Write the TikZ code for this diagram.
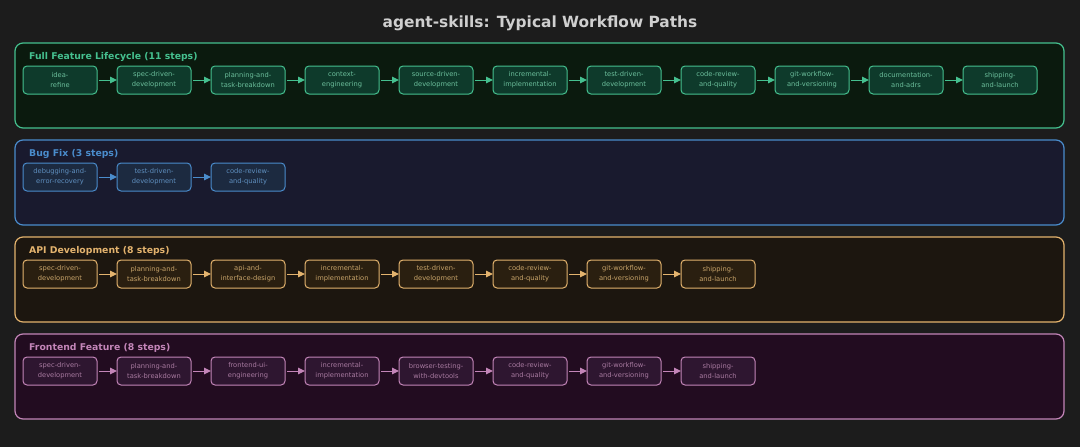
\documentclass[tikz,border=0pt]{standalone}
\usepackage{fontspec}
\setmainfont{DejaVu Sans}
\usetikzlibrary{arrows.meta}

\definecolor{bgcol}{HTML}{1C1C1C}
\definecolor{titlecol}{HTML}{CFCFCF}
\definecolor{greenedge}{HTML}{45C08F}
\definecolor{greenfill}{HTML}{0B1A0E}
\definecolor{greenbox}{HTML}{0E3A2B}
\definecolor{greentext}{HTML}{6CBF9C}
\definecolor{blueedge}{HTML}{4A8CCC}
\definecolor{bluefill}{HTML}{191A2E}
\definecolor{bluebox}{HTML}{1C2A40}
\definecolor{bluetext}{HTML}{5F8FBF}
\definecolor{orangeedge}{HTML}{E3B36E}
\definecolor{orangefill}{HTML}{1C160F}
\definecolor{orangebox}{HTML}{2A1F10}
\definecolor{orangetext}{HTML}{C8A46A}
\definecolor{pinkedge}{HTML}{C385B8}
\definecolor{pinkfill}{HTML}{220C20}
\definecolor{pinkbox}{HTML}{2E1630}
\definecolor{pinktext}{HTML}{A87AA0}

\tikzset{
  lane/.style={draw=#1edge, fill=#1fill, line width=1.2pt, rounded corners=8pt,
    minimum width=1049pt, minimum height=85pt, inner sep=0pt, outer sep=0pt, anchor=north west},
  lanetitle/.style={text=#1edge, anchor=west, inner sep=0pt, font=\fontsize{9.3}{10}\selectfont\bfseries},
  stepbox/.style={draw=#1edge, fill=#1box, text=#1text, line width=1pt, rounded corners=4pt,
    minimum width=74pt, minimum height=28pt, inner sep=0pt, outer sep=0pt, anchor=north west,
    align=center, font=\fontsize{6.7}{9.8}\selectfont},
  flow/.style={draw=#1edge, line width=1pt, -{Triangle[length=7pt,width=6.5pt]}, shorten <=2pt},
}

\begin{document}
\begin{tikzpicture}[x=1pt, y=-1pt]
  \fill[bgcol] (0,0) rectangle (1080,447);
  \useasboundingbox (0,0) rectangle (1080,447);

  \node[text=titlecol, font=\fontsize{15.4}{17}\selectfont\bfseries] (title) at (540,23) {agent-skills: Typical Workflow Paths};

  % full feature lifecycle
  \node[lane=green] (fullLane) at (15,43) {};
  \node[lanetitle=green] (fullTitle) at (29,57) {Full Feature Lifecycle (11 steps)};
  \foreach \txt [count=\i] in {idea-\\refine, spec-driven-\\development, planning-and-\\task-breakdown,
      context-\\engineering, source-driven-\\development, incremental-\\implementation,
      test-driven-\\development, code-review-\\and-quality, git-workflow-\\and-versioning,
      documentation-\\and-adrs, shipping-\\and-launch}
    \node[stepbox=green] (full\i) at ({23+94*(\i-1)},66) {\txt};
  \foreach \i [evaluate=\i as \j using int(\i-1)] in {2,...,11}
    \draw[flow=green] (full\j.east) -- (full\i.west);

  % bug fix
  \node[lane=blue] (bugLane) at (15,140) {};
  \node[lanetitle=blue] (bugTitle) at (29,154) {Bug Fix (3 steps)};
  \foreach \txt [count=\i] in {debugging-and-\\error-recovery, test-driven-\\development, code-review-\\and-quality}
    \node[stepbox=blue] (bug\i) at ({23+94*(\i-1)},163) {\txt};
  \foreach \i [evaluate=\i as \j using int(\i-1)] in {2,3}
    \draw[flow=blue] (bug\j.east) -- (bug\i.west);

  % api development
  \node[lane=orange] (apiLane) at (15,237) {};
  \node[lanetitle=orange] (apiTitle) at (29,251) {API Development (8 steps)};
  \foreach \txt [count=\i] in {spec-driven-\\development, planning-and-\\task-breakdown, api-and-\\interface-design,
      incremental-\\implementation, test-driven-\\development, code-review-\\and-quality,
      git-workflow-\\and-versioning, shipping-\\and-launch}
    \node[stepbox=orange] (api\i) at ({23+94*(\i-1)},260) {\txt};
  \foreach \i [evaluate=\i as \j using int(\i-1)] in {2,...,8}
    \draw[flow=orange] (api\j.east) -- (api\i.west);

  % frontend feature
  \node[lane=pink] (feLane) at (15,334) {};
  \node[lanetitle=pink] (feTitle) at (29,348) {Frontend Feature (8 steps)};
  \foreach \txt [count=\i] in {spec-driven-\\development, planning-and-\\task-breakdown, frontend-ui-\\engineering,
      incremental-\\implementation, browser-testing-\\with-devtools, code-review-\\and-quality,
      git-workflow-\\and-versioning, shipping-\\and-launch}
    \node[stepbox=pink] (fe\i) at ({23+94*(\i-1)},357) {\txt};
  \foreach \i [evaluate=\i as \j using int(\i-1)] in {2,...,8}
    \draw[flow=pink] (fe\j.east) -- (fe\i.west);
\end{tikzpicture}
\end{document}
